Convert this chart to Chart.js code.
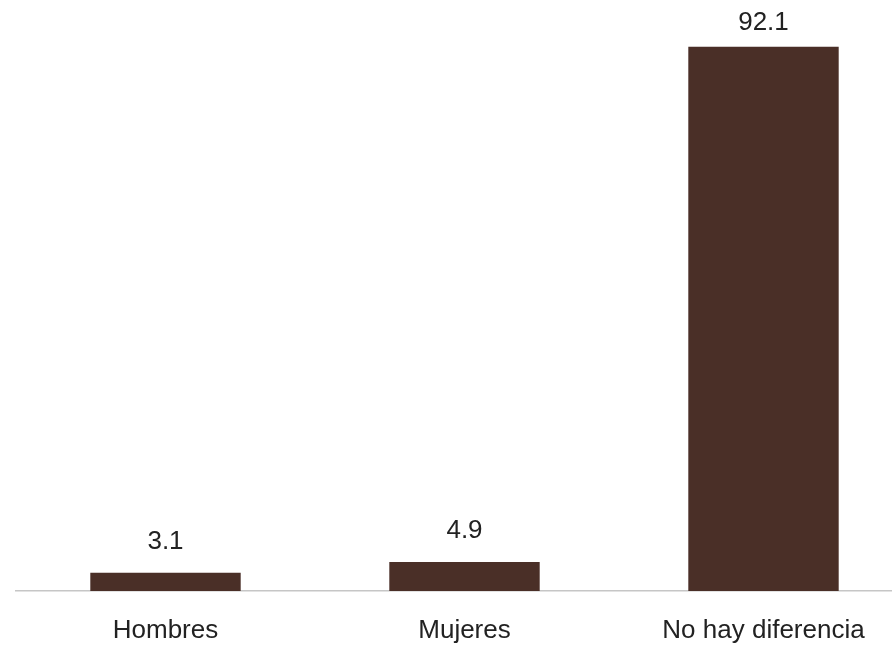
<!DOCTYPE html>
<html lang="es">
<head>
    <meta charset="UTF-8" />
    <title>Hombres / Mujeres</title>
    <style>
        * { margin: 0; padding: 0; box-sizing: border-box; }
        body { width: 892px; height: 645px; overflow: hidden; background: #ffffff; }
        .chart-wrap { width: 913px; height: 645px; }
    </style>
</head>
<body>
    <div class="chart-wrap">
        <canvas id="barChart"></canvas>
    </div>
    <script src="https://cdn.jsdelivr.net/npm/chart.js"></script>
    <script>
        // datos
        const categories = ['Hombres', 'Mujeres', 'No hay diferencia'];
        const values = [3.1, 4.9, 92.1];

        const barColor = '#4a2f27';
        const fontFamily = "'Liberation Sans', Arial, Helvetica, sans-serif";

        // etiquetas de valor encima de cada barra
        const valueLabels = {
            id: 'valueLabels',
            afterDatasetsDraw(chart) {
                const ctx = chart.ctx;
                const meta = chart.getDatasetMeta(0);
                ctx.save();
                ctx.font = '26px ' + fontFamily;
                ctx.fillStyle = '#222222';
                ctx.textAlign = 'center';
                ctx.textBaseline = 'alphabetic';
                meta.data.forEach((bar, i) => {
                    const y = Math.max(bar.y - 24, 30);
                    ctx.fillText(values[i].toFixed(1), bar.x, y);
                });
                ctx.restore();
            }
        };

        new Chart(document.getElementById('barChart'), {
            type: 'bar',
            data: {
                labels: categories,
                datasets: [{
                    data: values,
                    backgroundColor: barColor,
                    borderWidth: 0,
                    barPercentage: 0.503,
                    categoryPercentage: 1.0
                }]
            },
            options: {
                responsive: true,
                maintainAspectRatio: false,
                animation: false,
                layout: { padding: { left: 16, right: 0, top: 0, bottom: 0 } },
                plugins: {
                    legend: { display: false },
                    tooltip: { enabled: false }
                },
                scales: {
                    x: {
                        grid: { display: false, drawTicks: false },
                        border: { display: true, color: '#c6c6c6', width: 1.5 },
                        ticks: {
                            color: '#222222',
                            padding: 24,
                            maxRotation: 0,
                            font: { size: 26, family: fontFamily }
                        },
                        afterFit(scale) {
                            scale.height = 54;
                        }
                    },
                    y: {
                        display: false,
                        min: 0,
                        max: 100
                    }
                }
            },
            plugins: [valueLabels]
        });
    </script>
</body>
</html>
